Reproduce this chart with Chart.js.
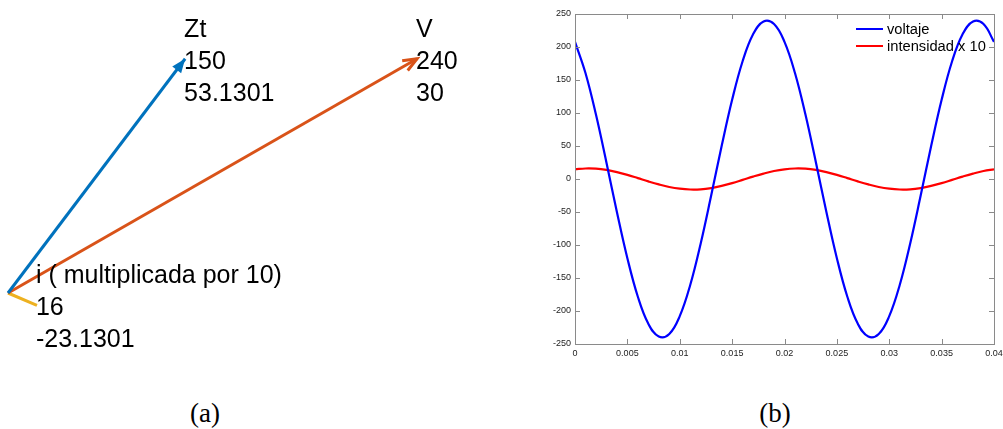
<!DOCTYPE html>
<html>
<head>
<meta charset="utf-8">
<script src="https://cdn.jsdelivr.net/npm/chart.js@4.4.1/dist/chart.umd.min.js"></script>
<style>
  body { margin: 0; width: 1003px; height: 429px; overflow: hidden; background: #fff; position: relative; }
  canvas { position: absolute; }
  #fasores { left: 0; top: 0; }
  #ondas { left: 530px; top: 0; }
  .caption { position: absolute; top: 398px; font: 27px "Liberation Serif", "DejaVu Serif", serif; color: #000; transform: translateX(-50%); }
</style>
</head>
<body>
<canvas id="fasores" width="480" height="380"></canvas>
<canvas id="ondas" width="490" height="380"></canvas>
<div class="caption" style="left:205px">(a)</div>
<div class="caption" style="left:775px">(b)</div>
<script>
// --- datos (a): fasores ---
const fasorNombres = ['Zt', 'V', 'i ( multiplicada por 10)'];
const fasorModulos = [150, 240, 16];
const fasorAngulos = [53.1301, 30, -23.1301];

// --- datos (b): formas de onda ---
const tiempo = [0, 0.001, 0.002, 0.003, 0.004, 0.005, 0.006, 0.007, 0.008, 0.009,
  0.010, 0.011, 0.012, 0.013, 0.014, 0.015, 0.016, 0.017, 0.018, 0.019,
  0.020, 0.021, 0.022, 0.023, 0.024, 0.025, 0.026, 0.027, 0.028, 0.029,
  0.030, 0.031, 0.032, 0.033, 0.034, 0.035, 0.036, 0.037, 0.038, 0.039, 0.040];
const voltaje = [207.8, 160.6, 97.6, 25.1, -49.9, -120, -178.4, -219.3, -238.7, -234.8,
  -207.8, -160.6, -97.6, -25.1, 49.9, 120, 178.4, 219.3, 238.7, 234.8,
  207.8, 160.6, 97.6, 25.1, -49.9, -120, -178.4, -219.3, -238.7, -234.8,
  -207.8, -160.6, -97.6, -25.1, 49.9, 120, 178.4, 219.3, 238.7, 234.8, 207.8];
const intensidad = [14.7, 15.9, 15.6, 13.7, 10.5, 6.3, 1.4, -3.6, -8.2, -12.1,
  -14.7, -15.9, -15.6, -13.7, -10.5, -6.3, -1.4, 3.6, 8.2, 12.1,
  14.7, 15.9, 15.6, 13.7, 10.5, 6.3, 1.4, -3.6, -8.2, -12.1,
  -14.7, -15.9, -15.6, -13.7, -10.5, -6.3, -1.4, 3.6, 8.2, 12.1, 14.7];
const serieNombres = ['voltaje', 'intensidad x 10'];
const xTicks = [0, 0.005, 0.01, 0.015, 0.02, 0.025, 0.03, 0.035, 0.04];
const yTicks = [-250, -200, -150, -100, -50, 0, 50, 100, 150, 200, 250];

// --- (a) diagrama fasorial ---
const fasorColores = ['#0072BD', '#D95319', '#EDB120'];
const puntas = ['llena', 'abierta', 'ninguna'];

const flechasPlugin = {
  id: 'flechas',
  afterDatasetsDraw(chart) {
    const ctx = chart.ctx;
    chart.data.datasets.forEach((ds, i) => {
      const meta = chart.getDatasetMeta(i);
      const p0 = meta.data[0], p1 = meta.data[1];
      const ang = Math.atan2(p1.y - p0.y, p1.x - p0.x);
      const L = 15, W = 0.38;
      ctx.save();
      ctx.strokeStyle = fasorColores[i];
      ctx.fillStyle = fasorColores[i];
      ctx.lineWidth = 3;
      if (puntas[i] === 'llena') {
        ctx.beginPath();
        ctx.moveTo(p1.x, p1.y);
        ctx.lineTo(p1.x - L * Math.cos(ang - W), p1.y - L * Math.sin(ang - W));
        ctx.lineTo(p1.x - L * Math.cos(ang + W), p1.y - L * Math.sin(ang + W));
        ctx.closePath();
        ctx.fill();
      } else if (puntas[i] === 'abierta') {
        ctx.beginPath();
        ctx.moveTo(p1.x - L * Math.cos(ang - W), p1.y - L * Math.sin(ang - W));
        ctx.lineTo(p1.x, p1.y);
        ctx.lineTo(p1.x - L * Math.cos(ang + W), p1.y - L * Math.sin(ang + W));
        ctx.stroke();
      }
      // etiquetas: nombre, modulo, angulo (la linea central en la punta)
      ctx.fillStyle = '#000';
      ctx.font = '25px "Liberation Sans", Arial, sans-serif';
      ctx.textAlign = 'left';
      ctx.textBaseline = 'alphabetic';
      const lineas = [fasorNombres[i], String(fasorModulos[i]), String(fasorAngulos[i])];
      lineas.forEach((t, j) => {
        ctx.fillText(t, p1.x - 1, p1.y + 1 + (j - 1) * 32 + 8.8);
      });
      ctx.restore();
    });
  }
};

const kx = 1.968, ky = 1.952;
const xMinA = -8 / kx, yMaxA = 293 / ky;

new Chart(document.getElementById('fasores'), {
  type: 'scatter',
  data: {
    datasets: fasorNombres.map((n, i) => {
      const r = fasorAngulos[i] * Math.PI / 180;
      return {
        label: n,
        data: [{ x: 0, y: 0 }, { x: fasorModulos[i] * Math.cos(r), y: fasorModulos[i] * Math.sin(r) }],
        showLine: true,
        borderColor: fasorColores[i],
        borderWidth: 3,
        pointRadius: 0,
        clip: false
      };
    })
  },
  options: {
    responsive: false,
    animation: false,
    layout: { padding: 0 },
    plugins: { legend: { display: false }, tooltip: { enabled: false } },
    scales: {
      x: { display: false, min: xMinA, max: xMinA + 480 / kx },
      y: { display: false, min: yMaxA - 380 / ky, max: yMaxA }
    }
  },
  plugins: [flechasPlugin]
});

// --- (b) voltaje e intensidad ---
const serieColores = ['#0000FF', '#FF0000'];

// caja de ejes con marcas hacia dentro (estilo MATLAB)
const cajaPlugin = {
  id: 'caja',
  afterDraw(chart) {
    const { ctx, chartArea: a, scales } = chart;
    ctx.save();
    ctx.strokeStyle = '#8a8a8a';
    ctx.lineWidth = 1;
    ctx.strokeRect(a.left + 0.5, a.top + 0.5, a.right - a.left, a.bottom - a.top);
    ctx.beginPath();
    xTicks.forEach(v => {
      const x = Math.round(scales.x.getPixelForValue(v)) + 0.5;
      ctx.moveTo(x, a.bottom); ctx.lineTo(x, a.bottom - 5);
      ctx.moveTo(x, a.top); ctx.lineTo(x, a.top + 5);
    });
    yTicks.forEach(v => {
      const y = Math.round(scales.y.getPixelForValue(v)) + 0.5;
      ctx.moveTo(a.left, y); ctx.lineTo(a.left + 5, y);
      ctx.moveTo(a.right, y); ctx.lineTo(a.right - 5, y);
    });
    ctx.stroke();
    ctx.restore();
  }
};

const leyendaPlugin = {
  id: 'leyenda',
  afterDatasetsDraw(chart) {
    const { ctx, chartArea: a } = chart;
    ctx.save();
    ctx.font = '14.7px "Liberation Sans", Arial, sans-serif';
    ctx.textBaseline = 'middle';
    ctx.fillStyle = '#000';
    serieNombres.forEach((n, i) => {
      const y = a.top + 15 + i * 17;
      ctx.strokeStyle = serieColores[i];
      ctx.lineWidth = 2;
      ctx.beginPath();
      ctx.moveTo(a.right - 138, y);
      ctx.lineTo(a.right - 111, y);
      ctx.stroke();
      ctx.fillText(n, a.right - 107, y + 1);
    });
    ctx.restore();
  }
};

new Chart(document.getElementById('ondas'), {
  type: 'line',
  data: {
    datasets: [
      {
        label: serieNombres[0],
        data: tiempo.map((t, i) => ({ x: t, y: voltaje[i] })),
        borderColor: serieColores[0],
        borderWidth: 2.2,
        pointRadius: 0,
        tension: 0.4
      },
      {
        label: serieNombres[1],
        data: tiempo.map((t, i) => ({ x: t, y: intensidad[i] })),
        borderColor: serieColores[1],
        borderWidth: 2.2,
        pointRadius: 0,
        tension: 0.4
      }
    ]
  },
  options: {
    responsive: false,
    animation: false,
    layout: { padding: { top: 14, right: 26, bottom: 0, left: 0 } },
    plugins: { legend: { display: false }, tooltip: { enabled: false } },
    scales: {
      x: {
        type: 'linear', min: 0, max: 0.04,
        afterFit: s => { s.height = 36; },
        afterBuildTicks: s => { s.ticks = xTicks.map(v => ({ value: v })); },
        grid: { display: false, drawTicks: false },
        border: { display: false },
        ticks: {
          padding: 4, color: '#222', maxRotation: 0, autoSkip: false,
          font: { family: '"Liberation Sans", Arial, sans-serif', size: 9 },
          callback: v => String(parseFloat(v.toFixed(3)))
        }
      },
      y: {
        min: -250, max: 250,
        afterFit: s => { s.width = 45; },
        afterBuildTicks: s => { s.ticks = yTicks.map(v => ({ value: v })); },
        grid: { display: false, drawTicks: false },
        border: { display: false },
        ticks: {
          padding: 4, color: '#222', autoSkip: false,
          font: { family: '"Liberation Sans", Arial, sans-serif', size: 9 },
          callback: v => String(v)
        }
      }
    }
  },
  plugins: [cajaPlugin, leyendaPlugin]
});
</script>
</body>
</html>
